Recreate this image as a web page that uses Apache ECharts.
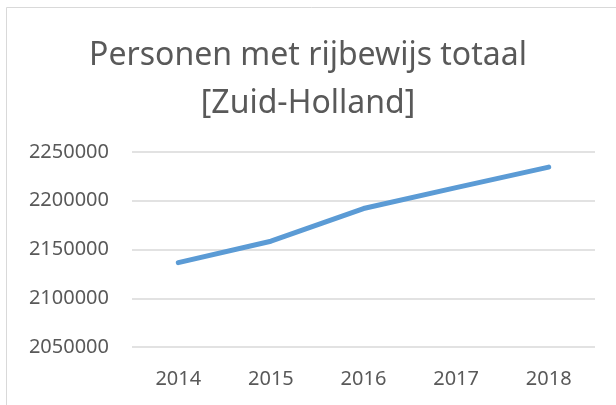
<!DOCTYPE html>
<html>
<head>
<meta charset="utf-8">
<script src="https://cdn.jsdelivr.net/npm/echarts@6/dist/echarts.min.js"></script>
<style>
    html, body { margin: 0; padding: 0; background: #fff; }
    #chart { width: 616px; height: 405px; }
</style>
</head>
<body>
<div id="chart"></div>
<script>
    // values
    const years = ['2014', '2015', '2016', '2017', '2018'];
    const persons = [2136500, 2158500, 2192000, 2213500, 2234500];
    const titleLines = ['Personen met rijbewijs totaal', '[Zuid-Holland]'];

    const chart = echarts.init(document.getElementById('chart'), null, {renderer: 'canvas'});

    chart.setOption({
        animation: false,
        backgroundColor: '#fff',
        title: {
            text: titleLines.join('\n'),
            left: 'center',
            top: 27,
            textStyle: {
                fontFamily: 'Noto Sans',
                fontSize: 32,
                fontWeight: 'normal',
                color: '#595959',
                lineHeight: 48
            }
        },
        graphic: [{
            type: 'rect',
            silent: true,
            shape: {x: 6.5, y: 7.5, width: 700, height: 500},
            style: {fill: 'none', stroke: '#d9d9d9', lineWidth: 1}
        }],
        grid: {left: 132, right: 21, top: 152, bottom: 58},
        xAxis: {
            type: 'category',
            data: years,
            boundaryGap: true,
            axisLine: {show: false},
            axisTick: {show: false},
            axisLabel: {
                margin: 22,
                fontFamily: 'Noto Sans',
                fontSize: 20,
                color: '#595959'
            }
        },
        yAxis: {
            type: 'value',
            min: 2050000,
            max: 2250000,
            interval: 50000,
            axisLine: {show: false},
            axisTick: {show: false},
            axisLabel: {
                margin: 23,
                fontFamily: 'Noto Sans',
                fontSize: 20,
                color: '#595959',
                formatter: v => String(v)
            },
            splitLine: {lineStyle: {color: '#d9d9d9', width: 1.5}}
        },
        series: [{
            type: 'line',
            data: persons,
            symbol: 'none',
            lineStyle: {color: '#5b9bd5', width: 5, cap: 'round', join: 'round'}
        }]
    });
</script>
</body>
</html>
